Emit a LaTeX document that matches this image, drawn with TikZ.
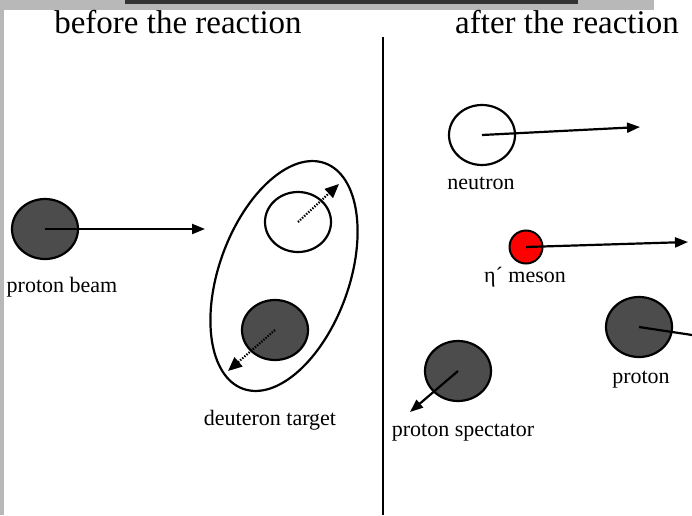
\documentclass[tikz,border=0pt]{standalone}
\usepackage{fontspec}
\setmainfont{Liberation Serif}
\usetikzlibrary{arrows.meta,shapes.geometric}

\begin{document}
\begin{tikzpicture}[
  x=1pt, y=1pt,
  heavy/.style={ellipse, draw, line width=2.2pt, fill=black!70, inner sep=0pt, minimum width=66pt, minimum height=60pt},
  light/.style={heavy, fill=white},
  meson/.style={circle, draw, line width=2pt, fill=red, inner sep=0pt, minimum size=33pt},
  arrow/.style={-{Triangle[length=13pt, width=10pt]}, line width=2.2pt},
  jiggle/.style={-{Triangle[length=14pt, width=12pt]}, line width=2.2pt, dash pattern=on 1.4pt off 1.4pt},
  title/.style={font=\fontsize{33}{36}\selectfont},
  lbl/.style={font=\fontsize{22}{24}\selectfont}
]
\clip (0,0) rectangle (692,515);
\fill[white] (0,0) rectangle (692,515);
\fill[black!28] (0,0) rectangle (4,515);
\fill[black!28] (0,505) rectangle (654,515);
\fill[black!80] (125,511) rectangle (578,515);

% titles and divider
\node[title] (before) at (178,493) {before the reaction};
\node[title] (after) at (567,493) {after the reaction};
\coordinate (divtop) at (383,478);
\coordinate (divbot) at (383,0);
\draw[line width=2.4pt] (divtop) -- (divbot);

% before the reaction
\node[heavy] (beam) at (45,286) {};
\coordinate (beamend) at (205,286);
\draw[arrow] (beam.center) -- (beamend);
\node[lbl] (beamlbl) at (62,228) {proton beam};

\node[ellipse, draw, line width=2.2pt, inner sep=0pt, minimum width=130pt, minimum height=240pt, rotate=-20] (deuteron) at (284,239) {};
\node[light] (dneutron) at (298,293) {};
\node[heavy] (dproton) at (275,185) {};
\coordinate (dneutronend) at (339,331);
\coordinate (dprotonend) at (228,144);
\draw[jiggle] (dneutron.center) -- (dneutronend);
\draw[jiggle] (dproton.center) -- (dprotonend);
\node[lbl] (deuteronlbl) at (270,95) {deuteron target};

% after the reaction
\node[light] (neutron) at (482,380) {};
\coordinate (neutronend) at (640,388);
\draw[arrow] (neutron.center) -- (neutronend);
\node[lbl] (neutronlbl) at (481,332) {neutron};

\node[meson] (eta) at (526,268) {};
\coordinate (etaend) at (688,273);
\draw[arrow] (eta.center) -- (etaend);
\node[lbl] (etalbl) at (525,238) {η´ meson};

\node[heavy] (proton) at (639,188) {};
\coordinate (protonend) at (712,177);
\draw[arrow] (proton.center) -- (protonend);
\node[lbl] (protonlbl) at (641,135) {proton};

\node[heavy] (spectator) at (458,144) {};
\coordinate (spectatorend) at (410,103);
\draw[arrow] (spectator.center) -- (spectatorend);
\node[lbl] (spectatorlbl) at (463,82) {proton spectator};

\end{tikzpicture}
\end{document}
